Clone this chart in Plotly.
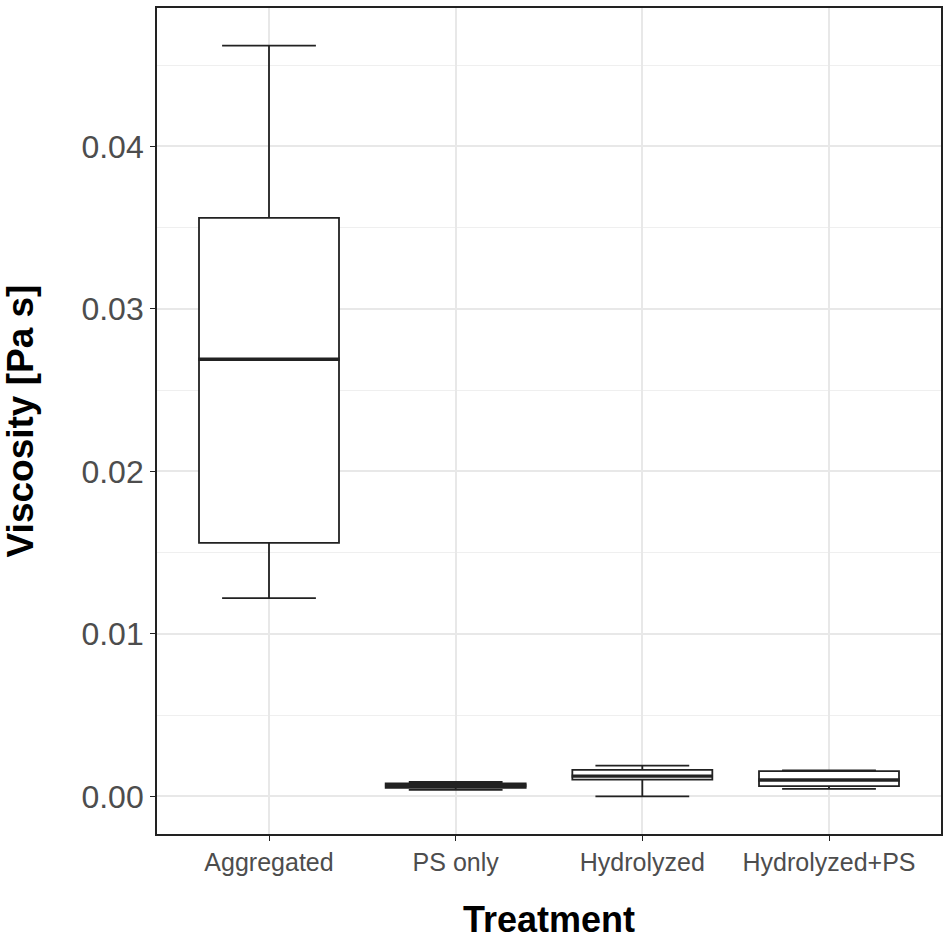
import plotly.graph_objects as go

# treatment groups and box summary values (Pa s)
treatments = ["Aggregated", "PS only", "Hydrolyzed", "Hydrolyzed+PS"]
whisker_low = [0.0122, 0.00040, 0.00000, 0.00047]
q1 = [0.0156, 0.00053, 0.00103, 0.00063]
median = [0.0269, 0.00067, 0.00125, 0.00101]
q3 = [0.0356, 0.00080, 0.00163, 0.00156]
whisker_high = [0.0462, 0.00090, 0.00190, 0.00161]

ink = "#222222"
grey30 = "#4D4D4D"
grid = "#E8E8E8"

fig = go.Figure()

fig.add_trace(go.Box(
    x=treatments,
    q1=q1,
    median=median,
    q3=q3,
    lowerfence=whisker_low,
    upperfence=whisker_high,
    width=0.75,
    whiskerwidth=0.67,
    fillcolor="white",
    line=dict(color=ink, width=1.8),
    boxpoints=False,
    showlegend=False,
))

# ggplot draws the median thicker than the box outline
fig.add_trace(go.Scatter(
    x=treatments,
    y=median,
    mode="markers",
    marker=dict(symbol="line-ew", size=101, line=dict(color=ink, width=3.4)),
    hoverinfo="skip",
    showlegend=False,
))

fig.update_layout(
    width=950,
    height=941,
    margin=dict(l=157, r=9, t=6, b=107),
    paper_bgcolor="white",
    plot_bgcolor="white",
    font=dict(family="Arial, Liberation Sans, sans-serif", color=grey30),
)

fig.update_xaxes(
    range=[-0.6, 3.6],
    showgrid=True,
    gridcolor=grid,
    gridwidth=1.6,
    zeroline=False,
    showline=True,
    mirror=True,
    linecolor=ink,
    linewidth=1.8,
    ticks="outside",
    ticklen=5,
    tickcolor=ink,
    tickfont=dict(size=25, color=grey30),
    title=dict(text="<b>Treatment</b>", font=dict(size=36, color="black"), standoff=32),
)

fig.update_yaxes(
    range=[-0.00231, 0.04851],
    tickvals=[0.0, 0.01, 0.02, 0.03, 0.04],
    ticktext=["0.00", "0.01", "0.02", "0.03", "0.04"],
    showgrid=True,
    gridcolor=grid,
    gridwidth=1.6,
    minor=dict(tickvals=[0.005, 0.015, 0.025, 0.035, 0.045], showgrid=True,
               gridcolor="#EFEFEF", gridwidth=1.0, ticks=""),
    zeroline=False,
    showline=True,
    mirror=True,
    linecolor=ink,
    linewidth=1.8,
    ticks="outside",
    ticklen=5,
    tickcolor=ink,
    tickfont=dict(size=32, color=grey30),
    title=dict(text="<b>Viscosity [Pa s]</b>", font=dict(size=37, color="black"), standoff=39),
)

# drop the default page margin so the figure sits at the window's corner
fig.write_html("out.html", config={"displayModeBar": False},
               post_script="document.body.style.margin='0';")
